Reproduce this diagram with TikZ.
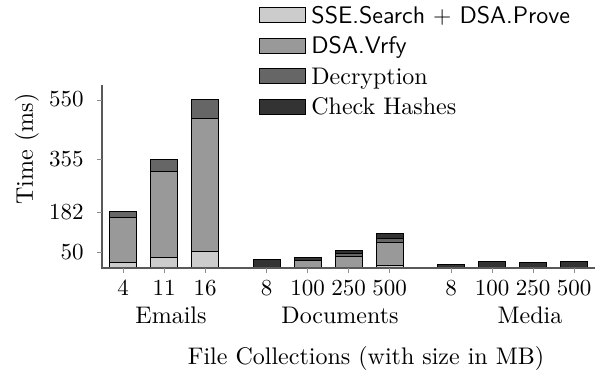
\documentclass[tikz,border=0pt]{standalone}
\usepackage{fontspec}
% keep the 10pt design size at every size, as a scaled figure would
\setmainfont{lmroman10-regular.otf}[BoldFont=lmroman10-bold.otf,ItalicFont=lmroman10-italic.otf]
\setsansfont{lmsans10-regular.otf}[BoldFont=lmsans10-bold.otf]
\tikzset{
  barseg/.style={draw=black,line width=0.5pt},
  sse/.style={fill=black!20},
  vrfy/.style={fill=black!40},
  decr/.style={fill=black!60},
  hash/.style={fill=black!80},
  axisline/.style={draw=black!65,line width=0.65pt},
  tickmark/.style={draw=black!45,line width=0.4pt},
  ticklabel/.style={inner sep=0pt,font=\fontsize{11.5}{14}\selectfont},
  biglabel/.style={inner sep=0pt,font=\large},
  legbox/.style={draw=black,line width=0.5pt,minimum width=23pt,minimum height=7.5pt,inner sep=0pt},
}
% draw one segment of a stacked bar only when it has a height
\newcommand\barseg[4]{%
  \ifdim #3pt>#2pt
    \filldraw[barseg,#4] (#1-13.5,#2) rectangle (#1+13.5,#3);
  \fi}
\begin{document}
\begin{tikzpicture}[x=0.5pt,y=0.5pt]
\useasboundingbox (0,0) rectangle (603,373);

% axes
\coordinate (origin) at (102,105);
\coordinate (ytop) at (102,288);
\coordinate (xend) at (595,105);

% stacked bars: slot / SSE.Search+DSA.Prove / DSA.Vrfy / Decryption / Check Hashes (ms)
\begin{scope}[shift={(0,105)},yscale=0.3055]
\foreach \k/\a/\b/\c/\d in {
    0/17/147/20/0, 1/35/282/39/0, 2/53/437/60/0,
    3.5/0/0/0/27, 4.5/2/21/2/8, 5.5/2/34/12/10, 6.5/8/76/11/19,
    8/0/0/0/13, 9/0/0/0/22, 10/0/0/0/18, 11/0/0/0/21}{
  \pgfmathsetmacro\xc{123+41*\k}
  \pgfmathsetmacro\ya{\a}
  \pgfmathsetmacro\yb{\a+\b}
  \pgfmathsetmacro\yc{\a+\b+\c}
  \pgfmathsetmacro\yd{\a+\b+\c+\d}
  \barseg{\xc}{0}{\ya}{sse}
  \barseg{\xc}{\ya}{\yb}{vrfy}
  \barseg{\xc}{\yb}{\yc}{decr}
  \barseg{\xc}{\yc}{\yd}{hash}
}
\end{scope}

\draw[axisline] (ytop) -- (origin) -- (xend);

% y ticks and labels
\foreach \v in {50,182,355,550}{
  \pgfmathsetmacro\yy{105+0.3055*\v}
  \coordinate (yt-\v) at (102,\yy);
  \draw[tickmark] (yt-\v) -- ++(-5,0);
  \node[ticklabel,anchor=base east] (yl-\v) at (84,\yy-7) {\v};
}

% x ticks and labels
\foreach \k/\lab [count=\i] in {0/4,1/11,2/16,3.5/8,4.5/100,5.5/250,6.5/500,8/8,9/100,10/250,11/500}{
  \pgfmathsetmacro\xc{123+41*\k}
  \coordinate (xt-\i) at (\xc,105);
  \draw[tickmark] (xt-\i) -- ++(0,-5);
  \node[ticklabel,anchor=base] (xl-\i) at (\xc,77) {\lab};
}

% group labels
\node[biglabel,anchor=base] (emails) at (171,49.7) {Emails};
\node[biglabel,anchor=base] (docs) at (340,49.7) {Documents};
\node[biglabel,anchor=base] (media) at (530,49.7) {Media};

% axis titles
\node[biglabel,anchor=base] (xtitle) at (366,8) {File Collections (with size in MB)};
\node[biglabel,anchor=base,rotate=90] (ytitle) at (33,224) {Time (ms)};

% legend
\foreach \st/\txt [count=\i from 0] in {
    sse/{\textsf{SSE.Search} $+$ \textsf{DSA.Prove}},
    vrfy/{\textsf{DSA.Vrfy}},
    decr/{Decryption},
    hash/{Check Hashes}}{
  \pgfmathsetmacro\yb{349.7-30.5*\i}
  \node[legbox,\st,anchor=south west] (lb-\i) at (259.3,\yb) {};
  \node[biglabel,anchor=base west] (lt-\i) at (311,\yb) {\txt};
}
\end{tikzpicture}
\end{document}
